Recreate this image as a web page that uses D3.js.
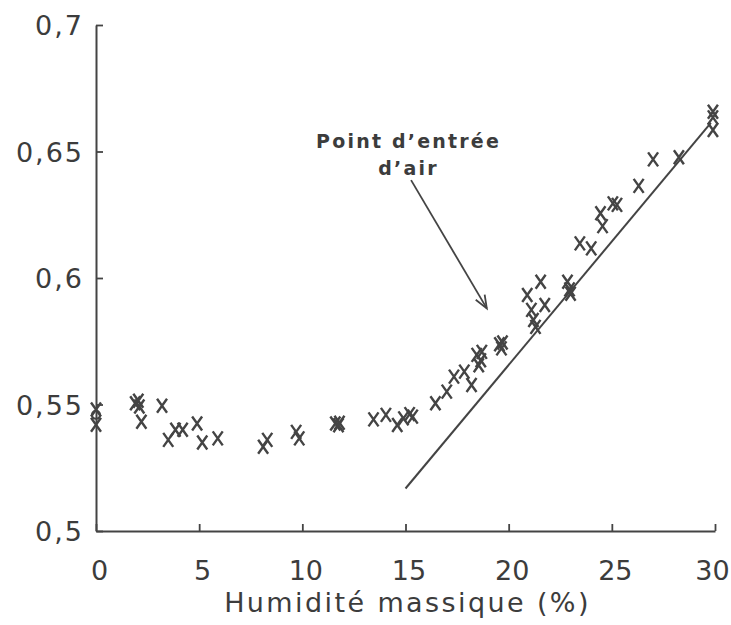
<!DOCTYPE html>
<html>
<head>
<meta charset="utf-8">
<script src="https://cdn.jsdelivr.net/npm/d3@7"></script>
<style>
  html, body { margin: 0; padding: 0; background: #fff; }
  svg { display: block; }
  text { font-family: "DejaVu Sans", sans-serif; fill: #3c3c3c; }
</style>
</head>
<body>
<svg id="chart" width="731" height="625"></svg>
<script>
// Measured points: mass humidity (%) and the measured quantity
const humidity = [
  0, 0, 1.9, 2.05, 2.1, 2.2, 3.2, 3.5, 3.85, 4.2, 4.9, 5.15, 5.9, 8.1, 8.3, 9.7, 9.85,
  11.6, 11.75, 11.8, 13.45, 14.05, 14.6, 14.9, 15.2, 15.35, 16.45, 17.0, 17.35, 17.85,
  18.2, 18.45, 18.55, 18.65, 18.7, 19.55, 19.65, 19.7, 20.9, 21.55, 21.1, 21.75, 21.2,
  21.3, 22.85, 22.95, 23.0, 23.45, 24.0, 24.45, 24.55, 25.05, 25.25, 26.3, 27.0, 28.25,
  29.9, 29.9, 29.9
];
const measured = [
  0.548, 0.542, 0.5505, 0.5515, 0.5492, 0.5432, 0.5495, 0.536, 0.540, 0.540, 0.5425, 0.535,
  0.5366, 0.5333, 0.536, 0.5392, 0.5366, 0.5425, 0.5418, 0.5428, 0.5441, 0.5459, 0.5419,
  0.5445, 0.5462, 0.5452, 0.5505, 0.5551, 0.561, 0.563, 0.5577, 0.5696, 0.5655, 0.5675,
  0.5708, 0.5738, 0.5722, 0.5745, 0.5933, 0.5985, 0.5874, 0.5893, 0.5834, 0.5807, 0.5985,
  0.5955, 0.5938, 0.6137, 0.6117, 0.6256, 0.6205, 0.6295, 0.6289, 0.6364, 0.6469, 0.6477,
  0.6657, 0.6635, 0.6585
];

// Single circled point at the origin
const circleX = [0];
const circleY = [0.5459];

// Straight reference line through the saturated branch
const lineX = [15.0, 29.8];
const lineY = [0.5168, 0.6613];

// Annotation arrow (tail, head) in data units
const arrowX = [15.27, 18.94];
const arrowY = [0.6387, 0.588];
const annotationLines = ["Point d\u2019entrée", "d\u2019air"];

const xTicks = [0, 5, 10, 15, 20, 25, 30];
const yTicks = [0.5, 0.55, 0.6, 0.65, 0.7];
const xTitle = "Humidité massique (%)";

const margin = { top: 25, right: 16, bottom: 94, left: 96 };
const W = 731, H = 625;
const iw = W - margin.left - margin.right;
const ih = H - margin.top - margin.bottom;

const ink = "#444";
const svg = d3.select("#chart");
const g = svg.append("g").attr("transform", `translate(${margin.left},${margin.top})`);

const x = d3.scaleLinear().domain([0, 30]).range([0, iw]);
const y = d3.scaleLinear().domain([0.5, 0.7]).range([ih, 0]);

const fmt = v => String(+v.toFixed(2)).replace(".", ",");

// Axes: ticks drawn inward
const xAxis = g.append("g").attr("transform", `translate(0,${ih})`)
  .call(d3.axisBottom(x).tickValues(xTicks).tickSizeInner(-7).tickSizeOuter(0).tickPadding(0).tickFormat(d => d));
const yAxis = g.append("g")
  .call(d3.axisLeft(y).tickValues(yTicks).tickSizeInner(-7).tickSizeOuter(0).tickPadding(0).tickFormat(fmt));

[xAxis, yAxis].forEach(a => {
  a.select(".domain").attr("stroke", ink).attr("stroke-width", 2);
  a.selectAll(".tick line").attr("stroke", ink).attr("stroke-width", 1.8);
  a.selectAll(".tick text").attr("fill", "#3c3c3c").style("font-size", "27px")
    .style("font-family", "'DejaVu Sans', sans-serif");
});
// the last label is nudged left so it stays inside the frame
xAxis.selectAll(".tick text").attr("y", 49).attr("dy", 0)
  .attr("dx", d => d === 30 ? -3 : 3);
yAxis.selectAll(".tick text").attr("x", -12).attr("dy", "0.36em")
  .style("letter-spacing", "2px");

// Axis title
g.append("text")
  .attr("x", x(15) + 2).attr("y", ih + 81)
  .attr("text-anchor", "middle")
  .style("font-size", "27px").style("letter-spacing", "2.4px")
  .text(xTitle);

// Reference line
g.append("line")
  .attr("x1", x(lineX[0])).attr("y1", y(lineY[0]))
  .attr("x2", x(lineX[1])).attr("y2", y(lineY[1]))
  .attr("stroke", ink).attr("stroke-width", 2);

// Cross markers
const pts = humidity.map((h, i) => [h, measured[i]]);
const hw = 5, hh = 7;
g.append("g").selectAll("path").data(pts).join("path")
  .attr("transform", d => `translate(${x(d[0])},${y(d[1])})`)
  .attr("d", `M${-hw},${-hh}L${hw},${hh}M${hw},${-hh}L${-hw},${hh}`)
  .attr("stroke", ink).attr("stroke-width", 2.4).attr("fill", "none")
  .attr("stroke-linecap", "butt");

// Circle marker
g.append("g").selectAll("circle").data(circleX.map((c, i) => [c, circleY[i]])).join("circle")
  .attr("cx", d => x(d[0])).attr("cy", d => y(d[1])).attr("r", 4)
  .attr("fill", "none").attr("stroke", ink).attr("stroke-width", 2);

// Annotation text
const ann = g.append("text")
  .attr("text-anchor", "middle")
  .style("font-size", "19px").style("font-weight", "bold").style("letter-spacing", "2.2px");
annotationLines.forEach((t, i) => {
  ann.append("tspan").attr("x", x(15.1) + 1).attr("y", 123 + i * 27).text(t);
});

// Annotation arrow
const ax1 = x(arrowX[0]), ay1 = y(arrowY[0]), ax2 = x(arrowX[1]), ay2 = y(arrowY[1]);
g.append("line").attr("x1", ax1).attr("y1", ay1).attr("x2", ax2).attr("y2", ay2)
  .attr("stroke", ink).attr("stroke-width", 1.8);
const ang = Math.atan2(ay2 - ay1, ax2 - ax1);
const hl = 14, spread = 0.38;
g.append("path")
  .attr("d", `M${ax2 - hl * Math.cos(ang - spread)},${ay2 - hl * Math.sin(ang - spread)}L${ax2},${ay2}L${ax2 - hl * Math.cos(ang + spread)},${ay2 - hl * Math.sin(ang + spread)}`)
  .attr("fill", "none").attr("stroke", ink).attr("stroke-width", 1.8);
</script>
</body>
</html>
